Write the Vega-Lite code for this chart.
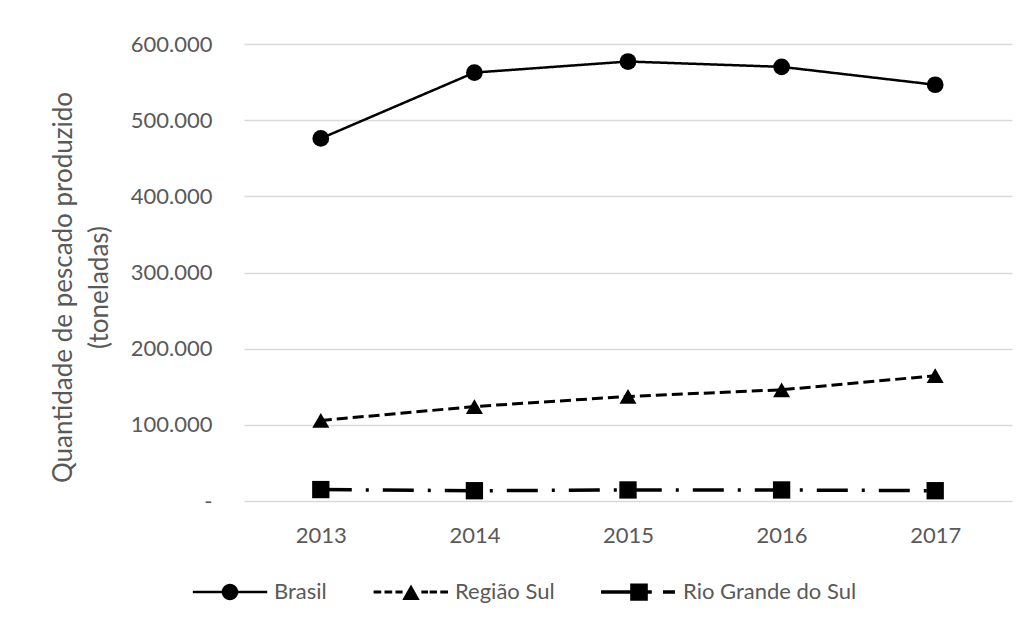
{
  "$schema": "https://vega.github.io/schema/vega-lite/v6.json",
  "autosize": {"type": "none"},
  "width": 768,
  "height": 457,
  "padding": {"left": 244, "top": 44, "right": 18, "bottom": 125},
  "background": "white",
  "config": {
    "font": "Lato",
    "view": {"stroke": null},
    "axis": {"labelFont": "Lato", "titleFont": "Lato", "labelColor": "#595959", "titleColor": "#595959"}
  },
  "data": {
    "values": [
      {"ano": "2013", "serie": "Brasil", "valor": 476000},
      {"ano": "2014", "serie": "Brasil", "valor": 562500},
      {"ano": "2015", "serie": "Brasil", "valor": 577000},
      {"ano": "2016", "serie": "Brasil", "valor": 570000},
      {"ano": "2017", "serie": "Brasil", "valor": 546500},
      {"ano": "2013", "serie": "Região Sul", "valor": 105700},
      {"ano": "2014", "serie": "Região Sul", "valor": 124000},
      {"ano": "2015", "serie": "Região Sul", "valor": 137300},
      {"ano": "2016", "serie": "Região Sul", "valor": 146000},
      {"ano": "2017", "serie": "Região Sul", "valor": 164500},
      {"ano": "2013", "serie": "Rio Grande do Sul", "valor": 15000},
      {"ano": "2014", "serie": "Rio Grande do Sul", "valor": 13500},
      {"ano": "2015", "serie": "Rio Grande do Sul", "valor": 14500},
      {"ano": "2016", "serie": "Rio Grande do Sul", "valor": 14500},
      {"ano": "2017", "serie": "Rio Grande do Sul", "valor": 13500}
    ]
  },
  "encoding": {
    "x": {
      "field": "ano", "type": "ordinal",
      "scale": {"type": "point", "padding": 0.5},
      "axis": {"title": null, "labelAngle": 0, "labelFontSize": 22, "ticks": false, "domain": false, "grid": false, "labelPadding": 24}
    },
    "y": {
      "field": "valor", "type": "quantitative",
      "scale": {"domain": [0, 600000], "nice": false, "zero": true},
      "axis": {
        "title": ["Quantidade de pescado produzido", "(toneladas)"],
        "titleFontSize": 26, "titleFontWeight": "normal", "titleLineHeight": 36,
        "titleAlign": "center", "titleBaseline": "middle", "titleAngle": -90,
        "titleX": -181, "titleY": 243,
        "values": [0, 100000, 200000, 300000, 400000, 500000, 600000],
        "labelExpr": "datum.value == 0 ? '-\u00a0\u00a0' : replace(format(datum.value, ',d'), ',', '.')",
        "labelFontSize": 22, "labelPadding": 32,
        "domain": false, "ticks": false,
        "grid": true, "gridColor": "#d9d9d9", "gridWidth": 1.3
      }
    }
  },
  "layer": [
    {
      "mark": {"type": "line", "color": "black", "strokeCap": "butt"},
      "encoding": {
        "strokeDash": {
          "field": "serie", "type": "nominal",
          "scale": {"domain": ["Brasil", "Região Sul", "Rio Grande do Sul"], "range": [[1, 0], [11, 5], [31, 14, 3, 14]]},
          "legend": null
        },
        "strokeWidth": {
          "field": "serie", "type": "ordinal",
          "scale": {"domain": ["Brasil", "Região Sul", "Rio Grande do Sul"], "range": [2.5, 3.5, 4.2]},
          "legend": null
        }
      }
    },
    {
      "mark": {"type": "point", "filled": true, "color": "black", "opacity": 1},
      "encoding": {
        "shape": {
          "field": "serie", "type": "nominal",
          "scale": {"domain": ["Brasil", "Região Sul", "Rio Grande do Sul"], "range": ["circle", "triangle-up", "square"]},
          "legend": null
        },
        "size": {
          "field": "serie", "type": "ordinal",
          "scale": {"domain": ["Brasil", "Região Sul", "Rio Grande do Sul"], "range": [280, 300, 260]},
          "legend": null
        }
      }
    },
    {
      "mark": {"type": "point", "filled": true, "color": "black", "opacity": 0},
      "encoding": {
        "shape": {
          "field": "serie", "type": "nominal",
          "scale": {
            "domain": ["Brasil", "Região Sul", "Rio Grande do Sul"],
            "range": [
              "M-4.65,-0.15H-0.95V0.15H-4.65Z M0.95,-0.15H4.65V0.15H0.95Z M-1.03,0A1.03,1.03 0 1,1 1.03,0A1.03,1.03 0 1,1 -1.03,0Z",
              "M-4.68,-0.2H-3.72V0.2H-4.68Z M-3.31,-0.2H-2.35V0.2H-3.31Z M-1.94,-0.2H-1.05V0.2H-1.94Z M-1.09,1L0,-0.95L1.09,1Z M1.29,-0.2H2.13V0.2H1.29Z M2.33,-0.2H3.25V0.2H2.33Z M3.66,-0.2H4.63V0.2H3.66Z",
              "M-4.75,-0.23H-1.1V0.23H-4.75Z M-1.1,-1.05H1.1V1.1H-1.1Z M1.1,-0.23H1.6V0.23H1.1Z M3,-0.23H4.5V0.23H3Z"
            ]
          },
          "legend": {
            "title": null,
            "orient": "none",
            "direction": "horizontal",
            "legendX": -25,
            "legendY": 537,
            "padding": 0,
            "columnPadding": 46,
            "symbolSize": 256,
            "symbolOpacity": 1,
            "symbolFillColor": "black",
            "symbolStrokeColor": "black",
            "symbolStrokeWidth": 0,
            "labelFont": "Lato",
            "labelFontSize": 22,
            "labelColor": "#595959",
            "labelOffset": 33,
            "labelLimit": 400
          }
        }
      }
    }
  ],
  "resolve": {"scale": {"shape": "independent", "size": "independent"}}
}
